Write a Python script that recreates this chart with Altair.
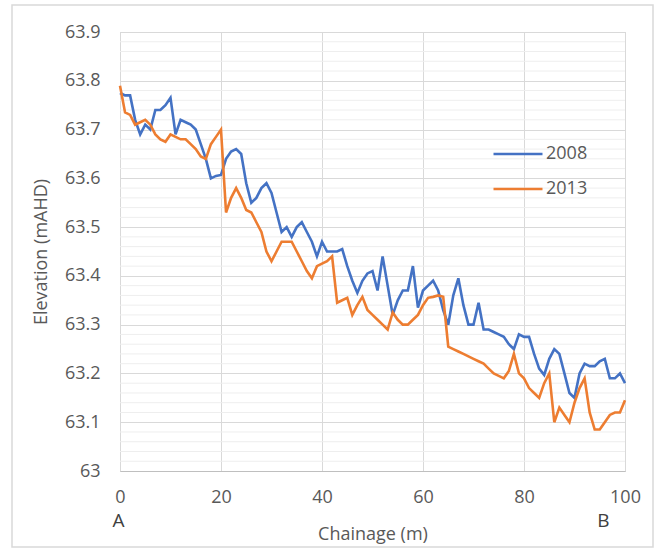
import altair as alt
import pandas as pd

chainage = list(range(0, 101))

elev_2008 = [
    63.775, 63.77, 63.77, 63.72, 63.69, 63.71, 63.70, 63.74, 63.74, 63.75,
    63.765, 63.69, 63.72, 63.715, 63.71, 63.70, 63.67, 63.64, 63.60, 63.605,
    63.607, 63.64, 63.655, 63.66, 63.65, 63.59, 63.55, 63.56, 63.58, 63.59,
    63.57, 63.53, 63.49, 63.50, 63.48, 63.50, 63.51, 63.49, 63.47, 63.44,
    63.47, 63.45, 63.45, 63.45, 63.455, 63.42, 63.39, 63.365, 63.39, 63.405,
    63.41, 63.37, 63.44, 63.38, 63.32, 63.35, 63.37, 63.37, 63.42, 63.335,
    63.37, 63.38, 63.39, 63.37, 63.33, 63.30, 63.36, 63.395, 63.34, 63.30,
    63.30, 63.345, 63.29, 63.29, 63.285, 63.28, 63.275, 63.26, 63.25, 63.28,
    63.275, 63.275, 63.24, 63.21, 63.197, 63.23, 63.25, 63.24, 63.20, 63.16,
    63.15, 63.20, 63.22, 63.215, 63.215, 63.225, 63.23, 63.19, 63.19, 63.20,
    63.18,
]

elev_2013 = [
    63.79, 63.735, 63.73, 63.71, 63.715, 63.72, 63.71, 63.69, 63.68, 63.675,
    63.69, 63.685, 63.68, 63.68, 63.67, 63.66, 63.645, 63.64, 63.67, 63.685,
    63.70, 63.53, 63.56, 63.58, 63.56, 63.535, 63.53, 63.51, 63.49, 63.45,
    63.43, 63.45, 63.47, 63.47, 63.47, 63.45, 63.43, 63.41, 63.395, 63.42,
    63.425, 63.43, 63.44, 63.345, 63.35, 63.355, 63.32, 63.34, 63.357, 63.33,
    63.32, 63.31, 63.30, 63.29, 63.325, 63.31, 63.30, 63.30, 63.31, 63.32,
    63.34, 63.355, 63.357, 63.36, 63.357, 63.255, 63.25, 63.245, 63.24, 63.235,
    63.23, 63.225, 63.22, 63.21, 63.20, 63.195, 63.19, 63.205, 63.24, 63.20,
    63.19, 63.17, 63.16, 63.15, 63.18, 63.20, 63.10, 63.13, 63.115, 63.10,
    63.14, 63.17, 63.19, 63.12, 63.085, 63.085, 63.10, 63.115, 63.12, 63.12,
    63.145,
]

series_names = ["2008", "2013"]
series_colors = ["#4472C4", "#ED7D31"]

y_major = [63.0, 63.1, 63.2, 63.3, 63.4, 63.5, 63.6, 63.7, 63.8, 63.9]
y_minor = [round(63.0 + 0.02 * i, 2) for i in range(46) if i % 5 != 0]
x_ticks = [0, 20, 40, 60, 80, 100]

end_labels = ["A", "B"]
end_label_x = [-0.3, 95.7]

FONT = "Open Sans"
GRAY = "#595959"
FS = 18

df = pd.DataFrame({
    "Chainage": chainage * 2,
    "Elevation": elev_2008 + elev_2013,
    "Year": [series_names[0]] * len(chainage) + [series_names[1]] * len(chainage),
})

x_scale = alt.Scale(domain=[0, 100], nice=False)
y_scale = alt.Scale(domain=[63.0, 63.9], nice=False, zero=False)

x_axis = alt.Axis(
    values=x_ticks, title="Chainage (m)", grid=True, gridColor="#d9d9d9",
    ticks=False, domainColor="#bfbfbf", labelPadding=17, labelFlush=False,
    titlePadding=19, labelFontSize=FS, titleFontSize=FS,
    labelColor=GRAY, titleColor=GRAY, titleFontWeight="normal",
    labelFont=FONT, titleFont=FONT,
)
y_axis = alt.Axis(
    values=y_major, title="Elevation (mAHD)", grid=True, gridColor="#d9d9d9",
    ticks=False, domain=False, labelPadding=20, labelFlush=False,
    labelExpr="datum.value == 63 ? '63' : format(datum.value, '.1f')",
    titlePadding=14, labelFontSize=FS, titleFontSize=FS,
    labelColor=GRAY, titleColor=GRAY, titleFontWeight="normal",
    labelFont=FONT, titleFont=FONT,
)

minor = alt.Chart(pd.DataFrame({"v": y_minor})).mark_rule(
    color="#eeeeee", strokeWidth=1
).encode(y=alt.Y("v:Q", scale=y_scale, axis=y_axis))

frame = alt.Chart(pd.DataFrame({"k": [0]})).mark_rect(
    fill=None, stroke="#d9d9d9", strokeWidth=1.5, clip=False
).encode(
    x=alt.value(-108), x2=alt.value(533), y=alt.value(-27), y2=alt.value(515)
)

lines = alt.Chart(df).mark_line(strokeWidth=2.6, clip=False).encode(
    x=alt.X("Chainage:Q", scale=x_scale, axis=x_axis),
    y=alt.Y("Elevation:Q", scale=y_scale, axis=y_axis),
    color=alt.Color(
        "Year:N",
        scale=alt.Scale(domain=series_names, range=series_colors),
        legend=alt.Legend(
            title=None, orient="none", legendX=372, legendY=96,
            symbolType="stroke", symbolSize=2400, symbolStrokeWidth=2.6,
            labelFontSize=FS, labelColor=GRAY, labelFont=FONT,
            rowPadding=-4, labelOffset=2,
        ),
    ),
)

ends = alt.Chart(pd.DataFrame({"t": end_labels, "x": end_label_x})).mark_text(
    fontSize=19, color="#404040", font=FONT, clip=False
).encode(
    x=alt.X("x:Q", scale=x_scale),
    y=alt.value(489),
    text="t:N",
)

chart = alt.layer(frame, minor, lines, ends).properties(
    width=505, height=439,
    padding={"left": 120, "top": 32, "right": 38, "bottom": 86},
    autosize=alt.AutoSizeParams(type="none"),
    background="white",
).configure_view(stroke="#d0d0d0", strokeWidth=1)

chart.save("out.html", embed_options={"renderer": "svg", "actions": False})
